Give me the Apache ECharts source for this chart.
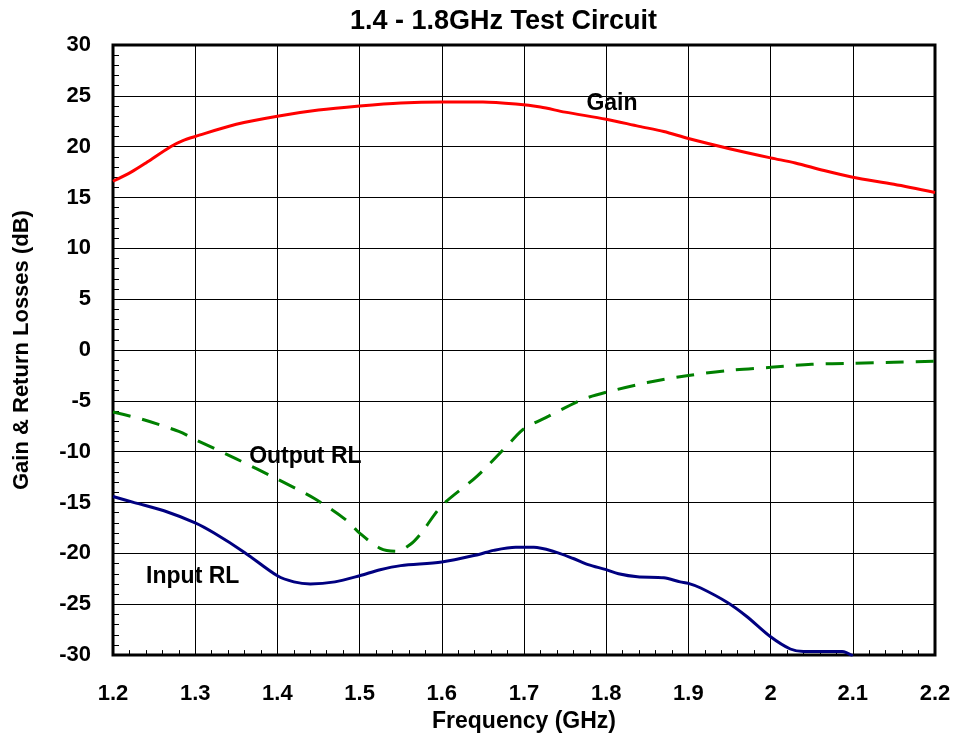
<!DOCTYPE html>
<html>
<head>
<meta charset="utf-8">
<script src="https://cdn.jsdelivr.net/npm/echarts@6/dist/echarts.min.js"></script>
<style>
  html, body { margin: 0; padding: 0; background: #fff; }
  #chart { width: 955px; height: 738px; }
</style>
</head>
<body>
<div id="chart"></div>
<script>
// frequency (GHz) / dB pairs
const gainFreq = [1.2, 1.222, 1.24, 1.27, 1.285, 1.3, 1.35, 1.4, 1.45, 1.5, 1.55, 1.6, 1.65, 1.69, 1.72, 1.75, 1.8, 1.84, 1.87, 1.9, 1.95, 2.0, 2.03, 2.065, 2.1, 2.15, 2.2];
const gainDb = [16.6, 17.5, 18.4, 20.0, 20.6, 21.0, 22.2, 23.0, 23.6, 24.0, 24.3, 24.4, 24.4, 24.2, 23.9, 23.4, 22.7, 22.0, 21.5, 20.8, 19.8, 18.9, 18.4, 17.65, 17.0, 16.3, 15.5];

const outFreq = [1.2, 1.235, 1.28, 1.3, 1.35, 1.4, 1.445, 1.485, 1.5, 1.525, 1.545, 1.562, 1.575, 1.6, 1.643, 1.683, 1.7, 1.73, 1.77, 1.8, 1.85, 1.9, 1.95, 2.0, 2.05, 2.1, 2.15, 2.2];
const outDb = [-6.1, -6.8, -8.0, -8.8, -10.7, -12.7, -14.6, -16.8, -18.0, -19.5, -19.8, -19.1, -18.0, -15.3, -12.4, -9.1, -7.75, -6.5, -4.9, -4.15, -3.2, -2.5, -2.0, -1.7, -1.4, -1.3, -1.2, -1.1];

const inFreq = [1.2, 1.226, 1.262, 1.3, 1.323, 1.36, 1.4, 1.42, 1.44, 1.47, 1.5, 1.525, 1.55, 1.6, 1.645, 1.663, 1.69, 1.712, 1.736, 1.76, 1.778, 1.8, 1.815, 1.838, 1.87, 1.89, 1.9, 1.915, 1.947, 1.971, 2.0, 2.024, 2.04, 2.087, 2.1];
const inDb = [-14.4, -15.0, -15.8, -17.0, -18.0, -19.9, -22.2, -22.8, -23.0, -22.8, -22.2, -21.6, -21.2, -20.85, -20.1, -19.7, -19.4, -19.4, -19.8, -20.5, -21.1, -21.6, -22.0, -22.3, -22.4, -22.8, -22.95, -23.4, -24.8, -26.2, -28.2, -29.4, -29.65, -29.65, -30.1];

// curve labels placed in data units
const labelNames = ['Gain', 'Output RL', 'Input RL'];
const labelFreq = [1.807, 1.434, 1.297];
const labelDb = [24.25, -10.5, -22.3];

const pairs = (xs, ys) => xs.map((x, i) => [x, ys[i]]);
const font = 'Liberation Sans, Arial, sans-serif';

const chart = echarts.init(document.getElementById('chart'));

chart.setOption({
    animation: false,
    title: {
        text: '1.4 - 1.8GHz Test Circuit',
        left: 345,
        top: 3,
        textStyle: { fontFamily: font, fontWeight: 'bold', fontSize: 27, color: '#000' }
    },
    grid: {
        left: 113, right: 20, top: 45, bottom: 82,
        show: true, borderColor: '#000', borderWidth: 3
    },
    xAxis: {
        type: 'value',
        min: 1.2, max: 2.2, interval: 0.1,
        name: 'Frequency (GHz)',
        nameLocation: 'middle',
        nameGap: 53,
        nameTextStyle: { fontFamily: font, fontWeight: 'bold', fontSize: 23, color: '#000' },
        axisLine: { show: false, onZero: false },
        axisTick: { show: true, inside: true, length: 7, lineStyle: { color: '#000' } },
        minorTick: { show: true, splitNumber: 5, length: 5, lineStyle: { color: '#000', width: 1 } },
        axisLabel: { fontFamily: font, fontWeight: 'bold', fontSize: 22, color: '#000', margin: 28 },
        splitLine: { show: true, lineStyle: { color: '#000', width: 1 } }
    },
    yAxis: {
        type: 'value',
        min: -30, max: 30, interval: 5,
        name: 'Gain & Return Losses (dB)',
        nameLocation: 'middle',
        nameGap: 80,
        nameTextStyle: { fontFamily: font, fontWeight: 'bold', fontSize: 22, color: '#000' },
        axisLine: { show: false, onZero: false },
        axisTick: { show: true, inside: true, length: 8, lineStyle: { color: '#000' } },
        minorTick: { show: true, splitNumber: 5, length: 6, lineStyle: { color: '#000', width: 1 } },
        axisLabel: { fontFamily: font, fontWeight: 'bold', fontSize: 22, color: '#000', margin: 22 },
        splitLine: { show: true, lineStyle: { color: '#000', width: 1 } }
    },
    series: [
        {
            name: 'Gain', type: 'line', data: pairs(gainFreq, gainDb),
            showSymbol: false, smooth: 0.3, clip: true,
            lineStyle: { color: '#ff0000', width: 3 }
        },
        {
            name: 'Output RL', type: 'line', data: pairs(outFreq, outDb),
            showSymbol: false, smooth: 0.3, clip: true,
            lineStyle: { color: '#008000', width: 3, type: [18, 12] }
        },
        {
            name: 'Input RL', type: 'line', data: pairs(inFreq, inDb),
            showSymbol: false, smooth: 0.3, clip: true,
            lineStyle: { color: '#000080', width: 3 }
        }
    ]
});

// curve annotations, positioned through the grid's own scales
chart.setOption({
    graphic: labelNames.map((n, i) => {
        const p = chart.convertToPixel({ gridIndex: 0 }, [labelFreq[i], labelDb[i]]);
        return {
            type: 'text', x: p[0], y: p[1], silent: true,
            style: {
                text: n, fill: '#000', align: 'center', verticalAlign: 'middle',
                font: 'bold 23px ' + font
            }
        };
    })
});
</script>
</body>
</html>
